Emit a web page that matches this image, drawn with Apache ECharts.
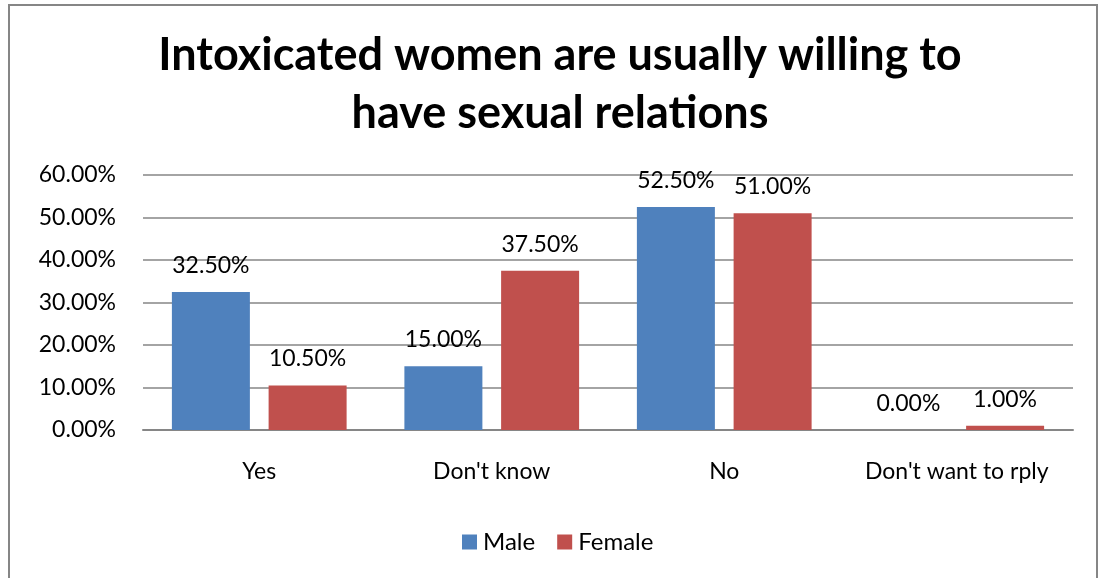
<!DOCTYPE html>
<html>
<head>
<meta charset="utf-8">
<script src="https://cdn.jsdelivr.net/npm/echarts@6/dist/echarts.min.js"></script>
<style>
  html, body { margin: 0; padding: 0; background: #fff; }
  #frame { position: absolute; left: 8px; top: 4px; width: 1090px; height: 580px; border: 2px solid #868686; box-sizing: border-box; }
  #chart { position: absolute; left: 0; top: 0; width: 1102px; height: 578px; }
</style>
</head>
<body>
<div id="frame"></div>
<div id="chart"></div>
<script>
// Survey answers, percent of respondents
const categories = ['Yes', "Don't know", 'No', "Don't want to rply"];
const male = [32.5, 15.0, 52.5, 0.0];
const female = [10.5, 37.5, 51.0, 1.0];
const seriesNames = ['Male', 'Female'];
const titleLines = ['Intoxicated women are usually willing to', 'have sexual relations'];

const FONT = 'Lato, "Open Sans", sans-serif';
const chart = echarts.init(document.getElementById('chart'), null, { renderer: 'canvas' });

const labelStyle = {
  show: true,
  position: 'top',
  distance: 15,
  color: '#000',
  fontFamily: FONT,
  fontSize: 23,
  formatter: p => p.value.toFixed(2) + '%'
};

chart.setOption({
  animation: false,
  backgroundColor: 'transparent',
  title: {
    text: titleLines.join('\n'),
    left: 555,
    textAlign: 'center',
    top: 21,
    textStyle: { fontFamily: FONT, fontWeight: 'bold', fontSize: 45, lineHeight: 58, color: '#000' }
  },
  legend: {
    data: seriesNames,
    left: 457,
    top: 525,
    itemWidth: 15,
    itemHeight: 15,
    itemGap: 22,
    icon: 'rect',
    textStyle: { fontFamily: FONT, fontSize: 24, color: '#000', padding: [0, 0, 0, 1] }
  },
  grid: { left: 143, right: 29, top: 175, bottom: 148, containLabel: false },
  xAxis: {
    type: 'category',
    data: categories,
    axisLine: { lineStyle: { color: '#868686', width: 2 } },
    axisTick: { show: false },
    axisLabel: { interval: 0, color: '#000', fontFamily: FONT, fontSize: 23, margin: 30 }
  },
  yAxis: {
    type: 'value',
    min: 0,
    max: 60,
    interval: 10,
    axisLine: { show: false },
    axisTick: { show: false },
    splitLine: { lineStyle: { color: '#868686', width: 1.5 } },
    axisLabel: { color: '#000', fontFamily: FONT, fontSize: 23, margin: 27, formatter: v => v.toFixed(2) + '%' }
  },
  series: [
    { name: seriesNames[0], type: 'bar', data: male, barWidth: 78, barGap: '24%', itemStyle: { color: '#4F81BD' }, label: labelStyle },
    { name: seriesNames[1], type: 'bar', data: female, barWidth: 78, barGap: '24%', itemStyle: { color: '#C0504D' }, label: labelStyle }
  ]
});
</script>
</body>
</html>
